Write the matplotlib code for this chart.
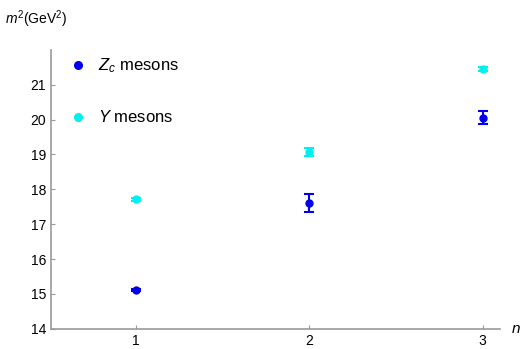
import matplotlib
matplotlib.use('Agg')
import matplotlib.pyplot as plt
from matplotlib.lines import Line2D

plt.rcParams['font.family'] = ['Liberation Sans', 'DejaVu Sans']
plt.rcParams['mathtext.fontset'] = 'custom'
plt.rcParams['mathtext.rm'] = 'Liberation Sans'
plt.rcParams['mathtext.it'] = 'Liberation Sans:italic'

# data
n = [1, 2, 3]
zc_m2 = [15.11, 17.61, 20.06]
zc_err = [0.02, 0.26, 0.19]
y_m2 = [17.71, 19.07, 21.46]
y_err = [0.05, 0.12, 0.06]

zc_col = '#0000ee'
y_col = '#00f0f0'

fig = plt.figure(figsize=(5.24, 3.49), dpi=100)
ax = fig.add_axes([0.0973, 0.058, 0.857, 0.799])

ax.errorbar(n, y_m2, yerr=y_err, fmt='o', color=y_col, ms=5,
            capsize=3.5, elinewidth=1.5, capthick=1.5)
ax.errorbar(n, zc_m2, yerr=zc_err, fmt='o', color=zc_col, ms=5,
            capsize=3.5, elinewidth=1.5, capthick=1.5)

ax.set_xlim(0.51, 3.1)
ax.set_ylim(14, 22)
ax.set_xticks([1, 2, 3])
ax.set_yticks(range(14, 22))

for s in ['top', 'right']:
    ax.spines[s].set_visible(False)
for s in ['left', 'bottom']:
    ax.spines[s].set_color('#999999')
    ax.spines[s].set_linewidth(1.2)
ax.tick_params(direction='in', length=3, color='#999999', labelsize=10)

handles = [Line2D([], [], ls='', marker='o', ms=5.5, color=zc_col),
           Line2D([], [], ls='', marker='o', ms=5.5, color=y_col)]
ax.legend(handles, ['$Z_c$ mesons', '$Y$ mesons'], loc='upper left',
          frameon=False, bbox_to_anchor=(0.013, 1.03), fontsize=12,
          labelspacing=2.05, handlelength=0.8, handletextpad=0.75)

fig.text(0.01, 0.93, r'$m^2$(GeV$^2$)', fontsize=10)
fig.text(0.975, 0.045, r'$n$', fontsize=11)

plt.savefig('out.png', dpi=100)
plt.close()
